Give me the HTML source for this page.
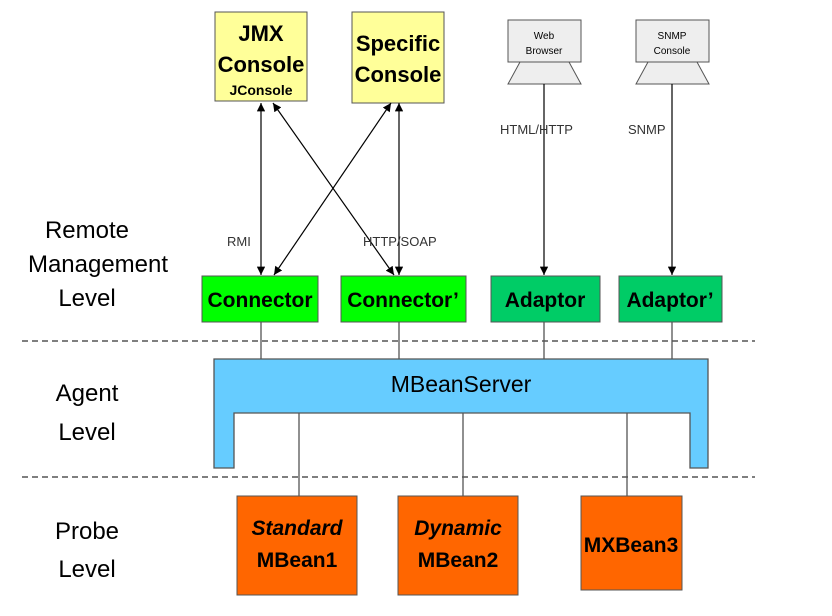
<!DOCTYPE html>
<html><head><style>body{margin:0;background:#fff}</style></head><body>
<svg width="832" height="611" xmlns="http://www.w3.org/2000/svg" font-family="Liberation Sans, sans-serif">
<defs><marker id="a" viewBox="0 0 10 10" refX="10" refY="5" markerWidth="7" markerHeight="7" orient="auto-start-reverse"><path d="M0,0L10,5L0,10z" fill="#000"/></marker></defs>
<g fill="#000" font-size="24" text-anchor="middle">
<text x="87" y="238">Remote</text><text x="98" y="272">Management</text><text x="87" y="306">Level</text>
<text x="87" y="401">Agent</text><text x="87" y="440">Level</text>
<text x="87" y="539">Probe</text><text x="87" y="577">Level</text>
</g>
<g stroke="#333" stroke-dasharray="6,4" stroke-width="1.3"><line x1="22" y1="341" x2="755" y2="341"/><line x1="22" y1="477" x2="755" y2="477"/></g>
<!-- top boxes -->
<rect x="215" y="12" width="92" height="89" fill="#ffff99" stroke="#555"/>
<text x="261" y="41" font-size="22" font-weight="bold" text-anchor="middle">JMX</text>
<text x="261" y="72" font-size="22" font-weight="bold" text-anchor="middle">Console</text>
<text x="261" y="95" font-size="14" font-weight="bold" text-anchor="middle">JConsole</text>
<rect x="352" y="12" width="92" height="91" fill="#ffff99" stroke="#555"/>
<text x="398" y="51" font-size="22" font-weight="bold" text-anchor="middle">Specific</text>
<text x="398" y="82" font-size="22" font-weight="bold" text-anchor="middle">Console</text>
<rect x="508" y="20" width="73" height="42" fill="#eee" stroke="#555"/>
<path d="M520,62L569,62L581,84L508,84z" fill="#eee" stroke="#555"/>
<text x="544" y="39" font-size="10" text-anchor="middle">Web</text><text x="544" y="54" font-size="10" text-anchor="middle">Browser</text>
<rect x="636" y="20" width="73" height="42" fill="#eee" stroke="#555"/>
<path d="M648,62L697,62L709,84L636,84z" fill="#eee" stroke="#555"/>
<text x="672" y="39" font-size="10" text-anchor="middle">SNMP</text><text x="672" y="54" font-size="10" text-anchor="middle">Console</text>
<!-- arrows -->
<g stroke="#000" stroke-width="1.2" fill="none">
<line x1="261" y1="103" x2="261" y2="275" marker-start="url(#a)" marker-end="url(#a)"/>
<line x1="273" y1="103" x2="394" y2="275" marker-start="url(#a)" marker-end="url(#a)"/>
<line x1="399" y1="103" x2="399" y2="275" marker-start="url(#a)" marker-end="url(#a)"/>
<line x1="391" y1="103" x2="274" y2="275" marker-start="url(#a)" marker-end="url(#a)"/>
<line x1="544" y1="84" x2="544" y2="275" marker-end="url(#a)"/>
<line x1="672" y1="84" x2="672" y2="275" marker-end="url(#a)"/>
</g>
<g font-size="13" fill="#333"><text x="227" y="246">RMI</text><text x="363" y="246">HTTP/SOAP</text><text x="500" y="134">HTML/HTTP</text><text x="628" y="134">SNMP</text></g>
<!-- connectors -->
<g stroke="#555" stroke-width="1.3">
<line x1="261" y1="322" x2="261" y2="359"/><line x1="399" y1="322" x2="399" y2="359"/><line x1="544" y1="322" x2="544" y2="359"/><line x1="672" y1="322" x2="672" y2="359"/>
<line x1="299" y1="413" x2="299" y2="496"/><line x1="463" y1="413" x2="463" y2="496"/><line x1="627" y1="413" x2="627" y2="496"/>
</g>
<g font-size="21" font-weight="bold" text-anchor="middle">
<rect x="202" y="276" width="116" height="46" fill="#00ff00" stroke="#555"/><text x="260" y="307">Connector</text>
<rect x="341" y="276" width="125" height="46" fill="#00ff00" stroke="#555"/><text x="403" y="307">Connector’</text>
<rect x="491" y="276" width="109" height="46" fill="#00cc66" stroke="#555"/><text x="545" y="307">Adaptor</text>
<rect x="619" y="276" width="103" height="46" fill="#00cc66" stroke="#555"/><text x="670" y="307">Adaptor’</text>
</g>
<path d="M214,359H708V468H690V413H234V468H214z" fill="#66ccff" stroke="#555" stroke-width="1.3"/>
<text x="461" y="392" font-size="23" text-anchor="middle">MBeanServer</text>
<g font-size="21" font-weight="bold" text-anchor="middle">
<rect x="237" y="496" width="120" height="99" fill="#ff6600" stroke="#555"/>
<text x="297" y="535" font-style="italic">Standard</text><text x="297" y="567">MBean1</text>
<rect x="398" y="496" width="120" height="99" fill="#ff6600" stroke="#555"/>
<text x="458" y="535" font-style="italic">Dynamic</text><text x="458" y="567">MBean2</text>
<rect x="581" y="496" width="101" height="94" fill="#ff6600" stroke="#555"/>
<text x="631" y="552">MXBean3</text>
</g>
</svg>
</body></html>
